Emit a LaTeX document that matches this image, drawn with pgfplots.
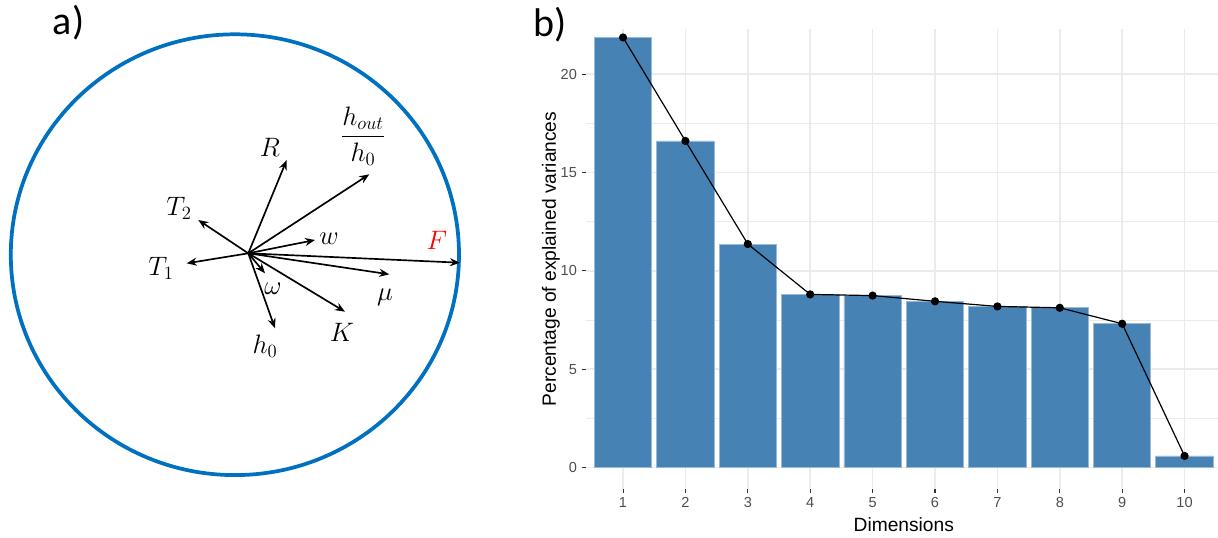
\RequirePackage{fix-cm}
\documentclass[border=0pt]{standalone}
\usepackage{amsmath}
\usepackage{pgfplots}
\pgfplotsset{compat=1.18}
\usepackage{fontspec}
\setmainfont{Liberation Sans}
\newfontfamily\carlito{Carlito}
\usetikzlibrary{arrows.meta}

\definecolor{circblue}{RGB}{0,112,192}
\definecolor{barblue}{RGB}{70,130,180}
\definecolor{gridgray}{RGB}{235,235,235}
\definecolor{ticktext}{RGB}{77,77,77}

\pgfplotsset{vec/.style={black, line width=1.25pt,
  -{Stealth[length=7.5pt,width=6pt]}, forget plot}}
\tikzset{lab/.style={font=\fontsize{20}{24}\selectfont, inner sep=0pt}}

\begin{document}
\begin{tikzpicture}
\useasboundingbox (0,0) rectangle (913.5pt,402.75pt);

% a) correlation circle, drawn in pixel units (y downwards)
\begin{axis}[
  at={(0pt,0pt)}, anchor=south west,
  scale only axis, width=360pt, height=402.75pt,
  xmin=0, xmax=480, ymin=0, ymax=537, y dir=reverse,
  hide axis, clip=false]
\draw[circblue, line width=2.8pt] (axis cs:234.9,254.7) ellipse [x radius=224.1, y radius=220.4];
\addplot[vec] coordinates {(248.3,253.3) (286.7,160)};   % R
\addplot[vec] coordinates {(248.3,253.3) (369.3,174.3)}; % hout/h0
\addplot[vec] coordinates {(248.3,253.3) (198.3,220)};   % T2
\addplot[vec] coordinates {(248.3,253.3) (315,240)};     % w
\addplot[vec] coordinates {(248.3,253.3) (186.7,263.3)}; % T1
\addplot[vec] coordinates {(248.3,253.3) (460,262.7)};   % F
\addplot[vec] coordinates {(248.3,253.3) (389.3,274.3)}; % mu
\addplot[vec] coordinates {(248.3,253.3) (345,311.7)};   % K
\addplot[vec] coordinates {(248.3,253.3) (275,328.3)};   % h0
\addplot[vec] coordinates {(248.3,253.3) (265,273.3)};   % omega
\node[lab] at (axis cs:270,147) {$R$};
\node[lab] at (axis cs:363,136) {$\dfrac{h_{out}}{h_0}$};
\node[lab] at (axis cs:179,208) {$T_2$};
\node[lab] at (axis cs:329,239) {$w$};
\node[lab] at (axis cs:161,268) {$T_1$};
\node[lab, red] at (axis cs:437,240) {$F$};
\node[lab] at (axis cs:385,297) {$\mu$};
\node[lab] at (axis cs:342,332) {$K$};
\node[lab] at (axis cs:265,346) {$h_0$};
\node[lab] at (axis cs:273,289) {$\omega$};
\end{axis}

% b) scree plot
\begin{axis}[
  at={(439.2pt,36pt)}, anchor=south west,
  scale only axis, width=477.3pt, height=345pt,
  xmin=0.4, xmax=10.6, ymin=-1.09, ymax=22.29,
  xtick={1,...,10}, ytick={0,5,10,15,20},
  minor ytick={2.5,7.5,12.5,17.5},
  grid=both,
  major grid style={gridgray, line width=1.1pt},
  minor grid style={gridgray, line width=0.55pt},
  axis line style={draw=none},
  xtick pos=bottom, ytick pos=left, tick align=outside,
  major tick length=3pt, minor tick length=0pt,
  tick style={black!80, line width=0.8pt},
  tick label style={font=\fontsize{10.9}{12}\selectfont, color=ticktext},
  /pgf/number format/assume math mode=true,
  xlabel={Dimensions},
  ylabel={Percentage of explained variances},
  label style={font=\fontsize{14.4}{17}\selectfont},
  xlabel style={at={(axis description cs:0.5,0)}, anchor=base, yshift=-31.5pt},
  ylabel style={at={(axis description cs:0,0.5)}, anchor=center, yshift=26pt},
  clip=false]
\addplot[ybar, bar width=0.92, fill=barblue, draw=barblue!55!white, line width=0.6pt]
  coordinates {(1,21.86) (2,16.60) (3,11.36) (4,8.80) (5,8.74)
               (6,8.45) (7,8.19) (8,8.12) (9,7.31) (10,0.59)};
\addplot[black, line width=0.9pt, mark=*, mark size=2.6pt]
  coordinates {(1,21.86) (2,16.60) (3,11.36) (4,8.80) (5,8.74)
               (6,8.45) (7,8.19) (8,8.12) (9,7.31) (10,0.59)};
\end{axis}

\node[anchor=base west, inner sep=0, font=\carlito\fontsize{30}{36}\selectfont] at (39.5pt,376.5pt) {a)};
\node[anchor=base west, inner sep=0, font=\carlito\fontsize{30}{36}\selectfont] at (399.75pt,375.2pt) {b)};
\end{tikzpicture}
\end{document}
